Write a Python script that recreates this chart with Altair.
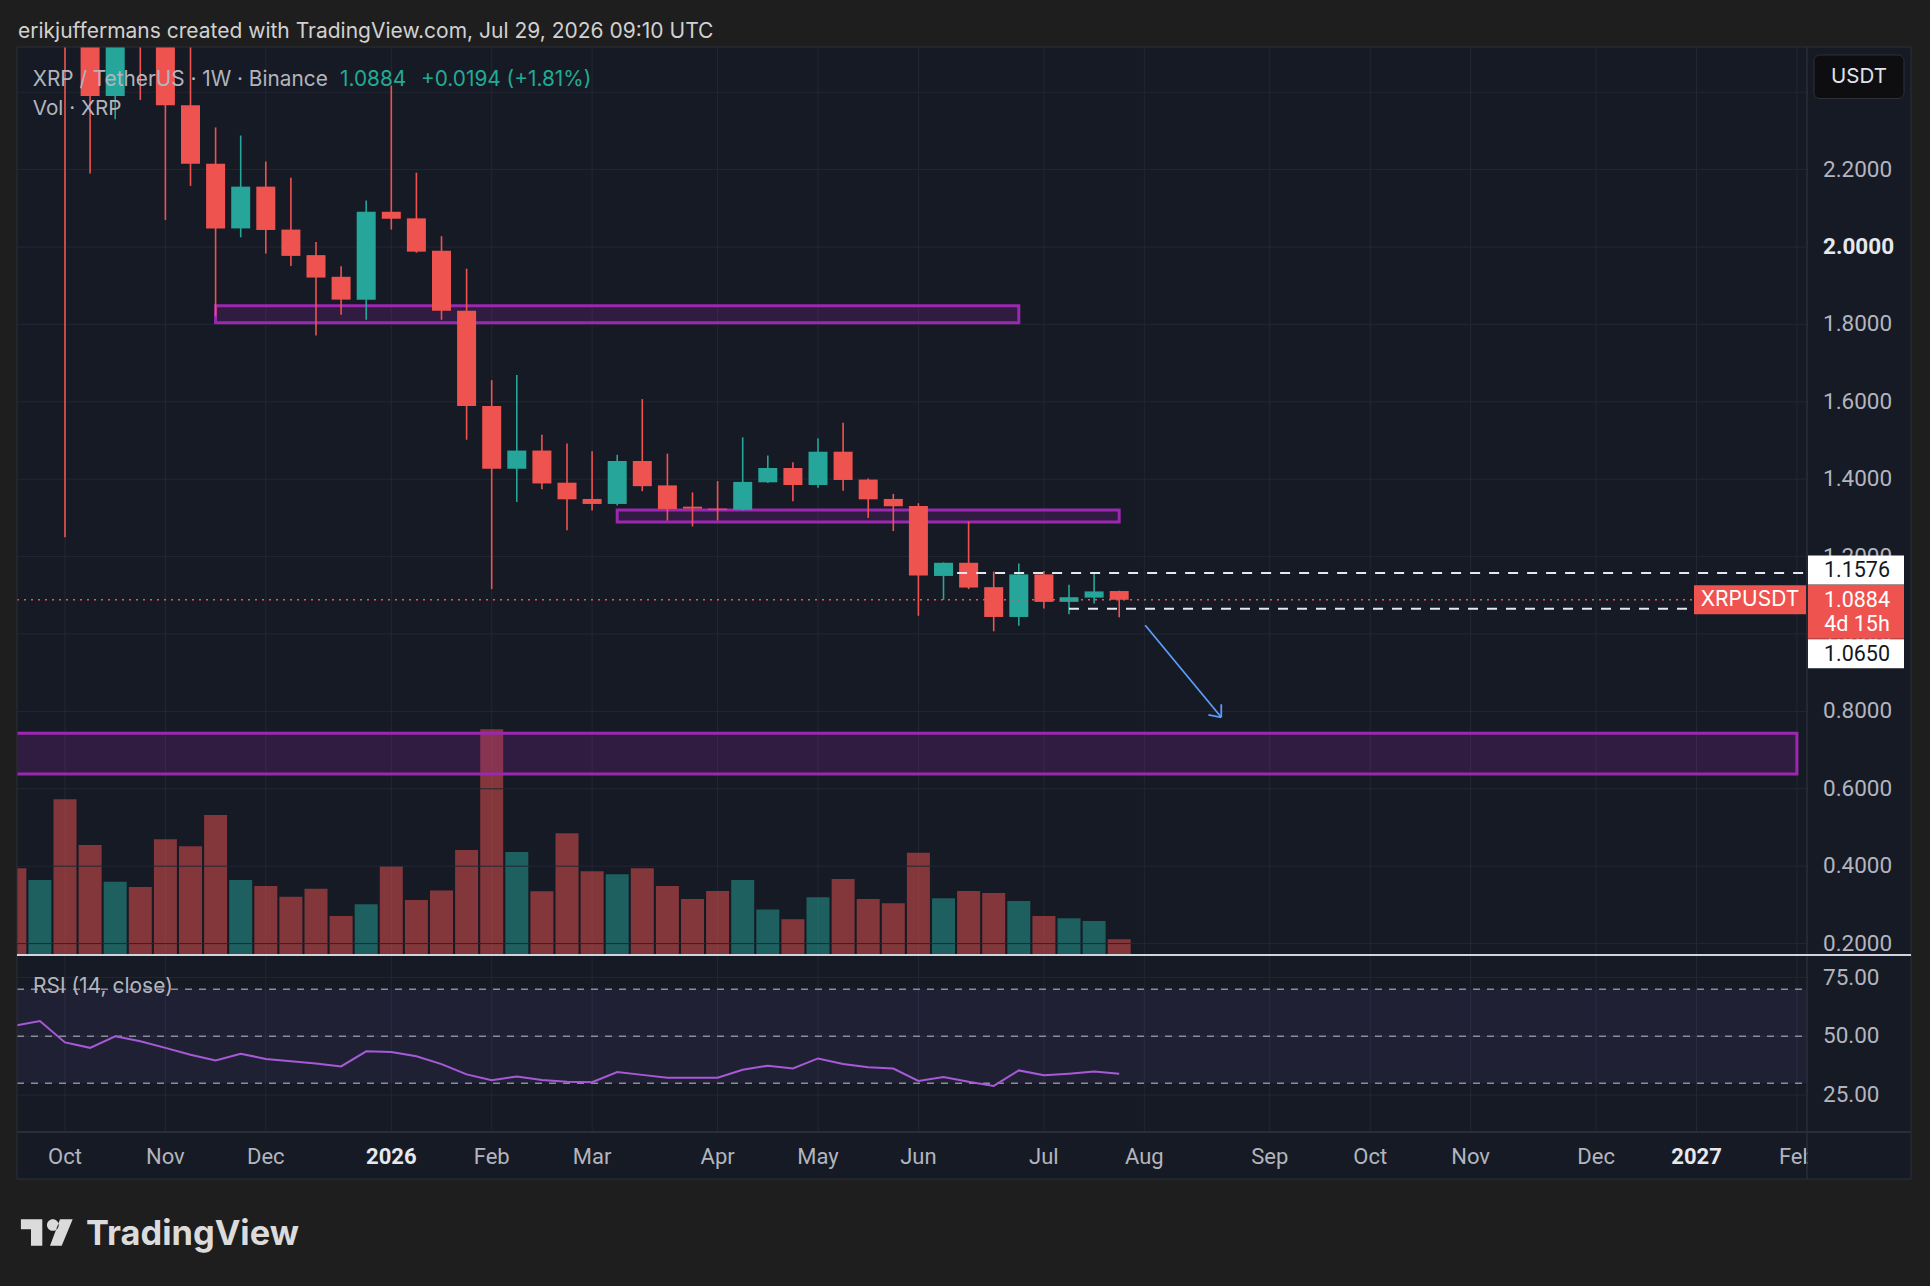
import altair as alt
import pandas as pd

# ---------------- data ----------------
week_dates = [
    "2025-09-22", "2025-09-29", "2025-10-06", "2025-10-13", "2025-10-20", "2025-10-27",
    "2025-11-03", "2025-11-10", "2025-11-17", "2025-11-24", "2025-12-01", "2025-12-08",
    "2025-12-15", "2025-12-22", "2025-12-29", "2026-01-05", "2026-01-12", "2026-01-19",
    "2026-01-26", "2026-02-02", "2026-02-09", "2026-02-16", "2026-02-23", "2026-03-02",
    "2026-03-09", "2026-03-16", "2026-03-23", "2026-03-30", "2026-04-06", "2026-04-13",
    "2026-04-20", "2026-04-27", "2026-05-04", "2026-05-11", "2026-05-18", "2026-05-25",
    "2026-06-01", "2026-06-08", "2026-06-15", "2026-06-22", "2026-06-29", "2026-07-06",
    "2026-07-13", "2026-07-20", "2026-07-27"]
opens = [2.99, 2.79, 2.98, 2.55, 2.39, 2.62,
         2.53, 2.366, 2.215, 2.048, 2.156, 2.045,
         1.979, 1.923, 1.864, 2.091, 2.074, 1.990,
         1.835, 1.589, 1.427, 1.474, 1.391, 1.349,
         1.336, 1.447, 1.384, 1.329, 1.324, 1.321,
         1.392, 1.429, 1.385, 1.471, 1.399, 1.349,
         1.331, 1.150, 1.184, 1.121, 1.044, 1.154,
         1.083, 1.094, 1.111]
highs = [3.05, 3.09, 3.10, 2.62, 2.70, 2.70,
         2.58, 2.58, 2.309, 2.288, 2.221, 2.179,
         2.013, 1.950, 2.120, 2.417, 2.192, 2.028,
         1.944, 1.656, 1.669, 1.515, 1.492, 1.472,
         1.463, 1.607, 1.466, 1.366, 1.395, 1.508,
         1.461, 1.444, 1.506, 1.546, 1.402, 1.362,
         1.338, 1.185, 1.291, 1.161, 1.182, 1.163,
         1.127, 1.160, 1.112]
lows = [2.70, 2.78, 1.25, 2.19, 2.33, 2.38,
        2.07, 2.158, 1.821, 2.025, 1.983, 1.951,
        1.771, 1.825, 1.812, 2.045, 1.985, 1.812,
        1.502, 1.116, 1.341, 1.374, 1.268, 1.319,
        1.332, 1.369, 1.293, 1.278, 1.293, 1.319,
        1.390, 1.343, 1.378, 1.370, 1.300, 1.266,
        1.047, 1.088, 1.116, 1.007, 1.021, 1.066,
        1.051, 1.079, 1.043]
closes = [2.79, 2.98, 2.55, 2.39, 2.62, 2.53,
          2.366, 2.215, 2.048, 2.156, 2.044, 1.977,
          1.921, 1.864, 2.091, 2.073, 1.988, 1.835,
          1.589, 1.427, 1.474, 1.389, 1.348, 1.336,
          1.447, 1.382, 1.323, 1.324, 1.321, 1.393,
          1.429, 1.385, 1.471, 1.398, 1.348, 1.330,
          1.151, 1.184, 1.120, 1.044, 1.154, 1.083,
          1.095, 1.110, 1.0884]
volumes = [451, 390, 810, 572, 381, 354,
           602, 565, 728, 390, 359, 303,
           345, 203, 264, 463, 286, 336,
           546, 1174, 536, 331, 633, 435,
           420, 451, 359, 291, 333, 390,
           236, 186, 300, 395, 291, 269,
           532, 295, 333, 322, 281, 203,
           191, 177, 82]
rsi_values = [54.5, 56.5, 47.4, 45.1, 50.0, 47.9,
              45.1, 42.2, 39.7, 42.6, 40.4, 39.4,
              38.4, 37.2, 43.6, 43.3, 41.5, 38.2,
              33.8, 31.3, 32.9, 31.4, 30.7, 30.5,
              34.8, 33.6, 32.4, 32.4, 32.4, 35.8,
              37.5, 36.3, 40.6, 38.2, 36.8, 36.3,
              31.0, 32.7, 30.7, 28.9, 35.5, 33.4,
              34.1, 35.0, 34.1]

month_ticks = ["2025-10-06", "2025-11-03", "2025-12-01", "2026-01-05", "2026-02-02",
               "2026-03-02", "2026-04-06", "2026-05-04", "2026-06-01", "2026-07-06",
               "2026-08-03", "2026-09-07", "2026-10-05", "2026-11-02", "2026-12-07",
               "2027-01-04", "2027-02-01"]
month_labels = ["Oct", "Nov", "Dec", "2026", "Feb", "Mar", "Apr", "May", "Jun", "Jul",
                "Aug", "Sep", "Oct", "Nov", "Dec", "2027", "Feb"]
price_ticks = [0.2, 0.4, 0.6, 0.8, 1.0, 1.2, 1.4, 1.6, 1.8, 2.0, 2.2, 2.4]
rsi_ticks = [25, 50, 75]
rsi_levels = [70, 50, 30]
rsi_band = [70, 30]

zone_starts = ["2025-11-17", "2026-03-09", "2025-08-01"]
zone_ends = ["2026-06-29", "2026-07-27", "2027-02-01"]
zone_tops = [1.8483, 1.3204, 0.7434]
zone_bottoms = [1.8044, 1.2894, 0.6382]

level_values = [1.1576, 1.0650]
level_starts = ["2026-06-11T19:00:00Z", "2026-07-13T00:00:00Z"]
level_ends = ["2027-06-01", "2027-06-01"]

arrow_x = ["2026-08-03T06:00:00Z", "2026-08-24T11:00:00Z", "2026-08-24T11:00:00Z"]
arrow_x2 = ["2026-08-24T11:00:00Z", "2026-08-20T21:00:00Z", "2026-08-24T11:00:00Z"]
arrow_y = [1.0225, 0.7848, 0.7848]
arrow_y2 = [0.7848, 0.7908, 0.8184]

last_price = [1.0884]
symbol = ["XRPUSDT"]
countdown = ["4d 15h"]

header_text = "erikjuffermans created with TradingView.com, Jul 29, 2026 09:10 UTC"
legend_title = "XRP / TetherUS \u00b7 1W \u00b7 Binance"
legend_price = "1.0884"
legend_change = "+0.0194 (+1.81%)"
vol_title = "Vol \u00b7 XRP"
rsi_title = "RSI (14, close)"
currency = "USDT"
brand = "TradingView"

# ---------------- style ----------------
FONT = "Inter"
NUMFONT = "Roboto"
PANEL = "#161a25"
OUTER = "#1e1e1e"
GRID = "#232733"
RED = "#ef5350"
TEAL = "#26a69a"
PURPLE = "#9c27b0"
AXIS_TXT = "#b2b5be"
BRIGHT = "#e6e8ee"
BLUE = "#5b9cf6"
RSI_COLOR = "#a75ad6"
SEP = "#2a2e39"
NUMSIZE = 22.5
BOXSIZE = 21.5

PLOT_W, PLOT_H, PRICE_H = 1790, 1085, 908
PANEL_W, PANEL_H = 1894, 1132
LABEL_X = 1806


def ms(s):
    t = pd.Timestamp(s)
    if t.tzinfo is None:
        t = t.tz_localize("UTC")
    return int(t.value // 1_000_000)


X_SCALE = alt.Scale(type="utc", domain=[ms("2025-09-22 14:44"), ms("2027-02-03 19:30")],
                    padding=0, nice=False)
PRICE_SCALE = alt.Scale(domain=[0.1705, 2.5168], range=[PRICE_H, 0], zero=False, nice=False, padding=0)
VOL_SCALE = alt.Scale(domain=[0, 4722], range=[PRICE_H, 0], nice=False, padding=0)
RSI_SCALE = alt.Scale(domain=[9.3, 84.6], range=[PLOT_H, PRICE_H], zero=False, nice=False, padding=0)


def X(field):
    return alt.X(f"{field}:T", scale=X_SCALE, axis=None)


def PY(field):
    return alt.Y(f"{field}:Q", scale=PRICE_SCALE, axis=None)


def RY(field):
    return alt.Y(f"{field}:Q", scale=RSI_SCALE, axis=None)


cdf = pd.DataFrame({"date": week_dates, "open": opens, "high": highs, "low": lows,
                    "close": closes, "volume": volumes, "rsi": rsi_values})
candle_color = alt.condition("datum.close >= datum.open", alt.value(TEAL), alt.value(RED))

# time grid + time labels
mdf = pd.DataFrame({"date": month_ticks, "label": month_labels})
vgrid = alt.Chart(mdf).mark_rule(color=GRID, strokeWidth=1).encode(
    x=X("date"), y=alt.value(0), y2=alt.value(PLOT_H))
month_txt = alt.Chart(mdf).transform_filter("length(datum.label) !== 4").mark_text(
    font=NUMFONT, fontSize=22, color=AXIS_TXT, align="center", baseline="middle").encode(
    x=X("date"), y=alt.value(1110), text="label:N")
year_txt = alt.Chart(mdf).transform_filter("length(datum.label) === 4").mark_text(
    font=NUMFONT, fontSize=22, color=BRIGHT, fontWeight="bold", align="center",
    baseline="middle").encode(x=X("date"), y=alt.value(1110), text="label:N")

# volume
vol = alt.Chart(cdf).mark_bar(size=23, opacity=0.5, clip=True).encode(
    x=X("date"), y=alt.Y("volume:Q", scale=VOL_SCALE, axis=None), color=candle_color)

# price pane
tdf = pd.DataFrame({"v": price_ticks})
hgrid = alt.Chart(tdf).mark_rule(color=GRID, strokeWidth=1).encode(
    x=alt.value(0), x2=alt.value(PLOT_W), y=PY("v"))
ptxt = alt.Chart(tdf).transform_filter("datum.v !== 2 && datum.v <= 2.2").mark_text(
    font=NUMFONT, fontSize=NUMSIZE, color=AXIS_TXT, align="left", baseline="middle").encode(
    x=alt.value(LABEL_X), y=PY("v"), text=alt.Text("v:Q", format=".4f"))
ptxt_b = alt.Chart(tdf).transform_filter("datum.v === 2").mark_text(
    font=NUMFONT, fontSize=NUMSIZE, color=BRIGHT, fontWeight="bold", align="left",
    baseline="middle").encode(
    x=alt.value(LABEL_X), y=PY("v"), text=alt.Text("v:Q", format=".4f"))

zdf = pd.DataFrame({"start": zone_starts, "end": zone_ends, "top": zone_tops, "bottom": zone_bottoms})
zones = alt.Chart(zdf).mark_rect(fill=PURPLE, fillOpacity=0.2, stroke=PURPLE, strokeWidth=3,
                                 clip=True).encode(
    x=X("start"), x2="end:T", y=PY("top"), y2="bottom:Q")
wicks = alt.Chart(cdf).mark_rule(strokeWidth=1.6, clip=True).encode(
    x=X("date"), y=PY("low"), y2="high:Q", color=candle_color)
bodies = alt.Chart(cdf).mark_bar(size=19, clip=True).encode(
    x=X("date"), y=PY("open"), y2="close:Q", color=candle_color)
ldf = pd.DataFrame({"start": level_starts, "end": level_ends, "value": level_values})
levels = alt.Chart(ldf).mark_rule(color=BRIGHT, strokeWidth=2, strokeDash=[10, 9], clip=True).encode(
    x=X("start"), x2="end:T", y=PY("value"))
pdf = pd.DataFrame({"price": last_price, "symbol": symbol, "countdown": countdown})
price_line = alt.Chart(pdf).mark_rule(color=RED, strokeWidth=1.5, strokeDash=[2, 5]).encode(
    x=alt.value(0), x2=alt.value(PLOT_W), y=PY("price"))
adf = pd.DataFrame({"x": arrow_x, "x2": arrow_x2, "y": arrow_y, "y2": arrow_y2})
arrow = alt.Chart(adf).mark_rule(color=BLUE, strokeWidth=1.8, clip=True).encode(
    x=X("x"), x2="x2:T", y=PY("y"), y2="y2:Q")
sym_box = alt.Chart(pdf).mark_rule(color=RED, strokeWidth=29).encode(
    x=alt.value(1677), x2=alt.value(1789), y=PY("price"))
sym_text = alt.Chart(pdf).mark_text(color="#ffffff", fontSize=21, font=FONT, align="center",
                                    baseline="middle").encode(
    x=alt.value(1733), y=PY("price"), text="symbol:N")
last_box = alt.Chart(pdf).mark_rule(color=RED, strokeWidth=54, yOffset=12).encode(
    x=alt.value(1791), x2=alt.value(1887), y=PY("price"))
last_text = alt.Chart(pdf).mark_text(color="#ffffff", fontSize=BOXSIZE, font=NUMFONT, align="center",
                                     baseline="middle", yOffset=1).encode(
    x=alt.value(1840), y=PY("price"), text=alt.Text("price:Q", format=".4f"))
cd_text = alt.Chart(pdf).mark_text(color="#ffffff", fontSize=BOXSIZE, font=NUMFONT, align="center",
                                   baseline="middle", yOffset=25).encode(
    x=alt.value(1840), y=PY("price"), text="countdown:N")
level_labels = []
for i, off in enumerate([-3, 45]):
    one = pd.DataFrame({"value": [level_values[i]]})
    level_labels.append(alt.Chart(one).mark_rule(color="#ffffff", strokeWidth=29, yOffset=off).encode(
        x=alt.value(1791), x2=alt.value(1887), y=PY("value")))
    level_labels.append(alt.Chart(one).mark_text(color="#131722", fontSize=BOXSIZE, font=NUMFONT,
                                                 align="center", baseline="middle",
                                                 yOffset=off + 1).encode(
        x=alt.value(1840), y=PY("value"), text=alt.Text("value:Q", format=".4f")))

price_group = alt.layer(hgrid, ptxt, ptxt_b, zones, wicks, bodies, levels, price_line, arrow,
                        sym_box, sym_text, last_box, last_text, cd_text, *level_labels)

# RSI pane
rtdf = pd.DataFrame({"v": rsi_ticks})
rgrid = alt.Chart(rtdf).mark_rule(color=GRID, strokeWidth=1).encode(
    x=alt.value(0), x2=alt.value(PLOT_W), y=RY("v"))
rtxt = alt.Chart(rtdf).mark_text(font=NUMFONT, fontSize=NUMSIZE, color=AXIS_TXT, align="left",
                                 baseline="middle").encode(
    x=alt.value(LABEL_X), y=RY("v"), text=alt.Text("v:Q", format=".2f"))
band = alt.Chart(pd.DataFrame({"top": [rsi_band[0]], "bottom": [rsi_band[1]]})).mark_rect(
    color="#7e57c2", opacity=0.1).encode(
    x=alt.value(0), x2=alt.value(PLOT_W), y=RY("top"), y2="bottom:Q")
rsi_lv = alt.Chart(pd.DataFrame({"level": rsi_levels})).mark_rule(
    color="#8a8d96", strokeWidth=1.5, strokeDash=[7, 7]).encode(
    x=alt.value(0), x2=alt.value(PLOT_W), y=RY("level"))
rsi_line = alt.Chart(cdf).mark_line(color=RSI_COLOR, strokeWidth=2, clip=True).encode(
    x=X("date"), y=RY("rsi"))
rsi_group = alt.layer(rgrid, rtxt, band, rsi_lv, rsi_line)


# ---------------- frame & annotations ----------------
def rect(x, x2, y, y2, **kw):
    return alt.Chart(pd.DataFrame({"k": [0]})).mark_rect(**kw).encode(
        x=alt.value(x), x2=alt.value(x2), y=alt.value(y), y2=alt.value(y2))


def rule(x, x2, y, y2, **kw):
    return alt.Chart(pd.DataFrame({"k": [0]})).mark_rule(**kw).encode(
        x=alt.value(x), x2=alt.value(x2), y=alt.value(y), y2=alt.value(y2))


def text(label, x, y, size, color, weight="normal", align="left", baseline="alphabetic", font=FONT):
    return alt.Chart(pd.DataFrame({"label": [label]})).mark_text(
        align=align, baseline=baseline, fontSize=size, font=font, color=color,
        fontWeight=weight).encode(x=alt.value(x), y=alt.value(y), text="label:N")


LOGO_PATH = ("M-1,-0.508 H-0.177 V0.508 H-0.612 V-0.123 H-1 Z "
             "M0.003,-0.288 A0.225,0.225 0 1,0 0.453,-0.288 A0.225,0.225 0 1,0 0.003,-0.288 Z "
             "M0.504,-0.508 L0.992,-0.508 L0.569,0.508 L0.119,0.508 Z")

deco = [
    rect(1791, 1893, 1086, 1131, fill=PANEL),
    rect(-17, 1913, -47, 0, fill=OUTER),
    rect(-17, 0, 0, 1239, fill=OUTER),
    rect(PANEL_W, 1913, 0, 1239, fill=OUTER),
    rect(-17, 1913, PANEL_H, 1239, fill=OUTER),
    rect(0, PANEL_W, 0, PANEL_H, fillOpacity=0, stroke=SEP, strokeWidth=1),
    rule(PLOT_W, PLOT_W, 0, PANEL_H, color=SEP, strokeWidth=1.5),
    rule(0, PANEL_W, PLOT_H, PLOT_H, color=SEP, strokeWidth=2),
    rule(0, PANEL_W, PRICE_H, PRICE_H, color="#d1d4dc", strokeWidth=2),
    rect(1797, 1887, 8, 51.5, fill="#0e0e10", stroke="#2e3038", strokeWidth=1, cornerRadius=6),
    text(currency, 1842, 30, 20.5, "#e0e3eb", align="center", baseline="middle"),
    text(header_text, 1, -9, 21, "#d1d1d1"),
    text(legend_title, 15.7, 39, 20.8, AXIS_TXT),
    text(legend_price, 323, 39, 20.8, "#22ab94"),
    text(legend_change, 404, 39, 20.8, "#22ab94"),
    text(vol_title, 15.7, 68.3, 20.7, AXIS_TXT),
    text(rsi_title, 15.9, 946.3, 21, AXIS_TXT),
    alt.Chart(pd.DataFrame({"k": [0]})).mark_point(
        shape=LOGO_PATH, filled=True, size=2704, color="#dbdbdb", opacity=1, strokeWidth=0).encode(
        x=alt.value(29.9), y=alt.value(1185.5)),
    text(brand, 69, 1198, 34.4, "#dbdbdb", weight="bold"),
]

chart = alt.layer(vgrid, month_txt, year_txt, vol, price_group, rsi_group, *deco).resolve_scale(
    y="independent"
).properties(
    width=PLOT_W, height=PLOT_H,
    padding={"left": 17, "top": 47, "right": 123, "bottom": 154},
    autosize=alt.AutoSizeParams(type="none"),
    background=PANEL,
).configure_view(stroke=None)

chart.save("out.html", embed_options={"renderer": "svg", "actions": False})
